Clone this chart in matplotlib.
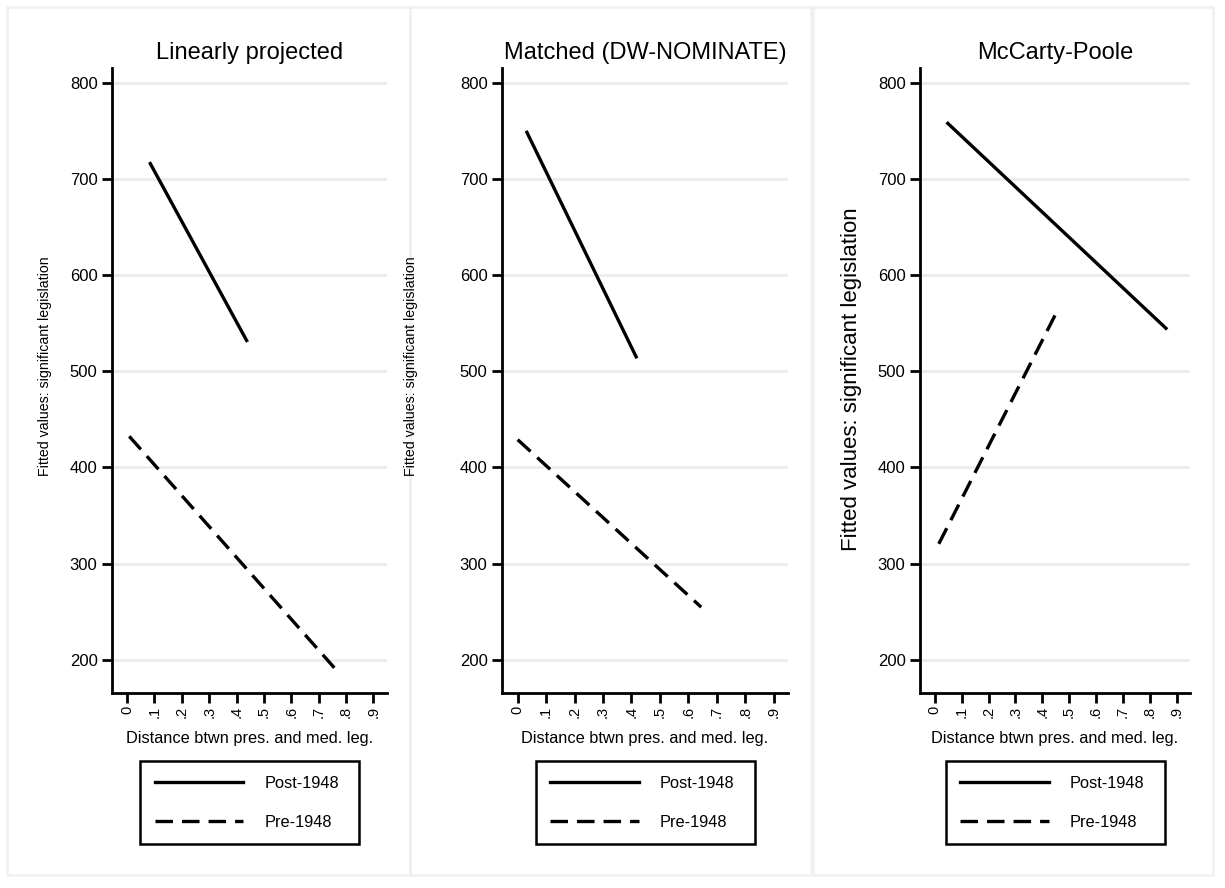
import matplotlib
matplotlib.use("Agg")
import matplotlib.pyplot as plt
from matplotlib.patches import Rectangle
from matplotlib.lines import Line2D
import numpy as np

plt.rcParams['font.family'] = ['Liberation Sans', 'DejaVu Sans']
plt.rcParams['lines.scale_dashes'] = False

# ---- data ----
titles = ["Linearly projected", "Matched (DW-NOMINATE)", "McCarty-Poole"]
post_x = [[0.082, 0.440], [0.030, 0.419], [0.044, 0.865]]
post_y = [[717.7, 530.5], [750.2, 513.5], [759.2, 543.6]]
pre_x = [[0.008, 0.770], [0.000, 0.645], [0.015, 0.458]]
pre_y = [[432.4, 187.5], [428.9, 254.6], [320.5, 564.0]]
xticks = [0, .1, .2, .3, .4, .5, .6, .7, .8, .9]
xticklabels = ["0", ".1", ".2", ".3", ".4", ".5", ".6", ".7", ".8", ".9"]
yticks = [200, 300, 400, 500, 600, 700, 800]
series_labels = ["Post-1948", "Pre-1948"]
xlabel = "Distance btwn pres. and med. leg."
ylabel = "Fitted values: significant legislation"

W, H = 1225, 888
fig = plt.figure(figsize=(W / 100, H / 100), dpi=100)
fig.patch.set_facecolor("white")

def fx(px):
    return px / W

def fy(py):
    return 1 - py / H

# panel frames
frames = [(7, 410), (410, 811), (813, 1213)]
for (l, r) in frames:
    fig.add_artist(Rectangle((fx(l), fy(875)), fx(r - l), (875 - 7) / H,
                             transform=fig.transFigure, fill=False,
                             edgecolor="#f0f0f0", linewidth=1.8, zorder=0))

axes_px = [(112, 387), (502, 788), (920, 1190)]
ylabel_pos = [(45, 366, 10.2), (411, 366, 10.2), (851, 379, 16)]
dash = (0, (12.6, 6.5))

for i in range(3):
    l, r = axes_px[i]
    ax = fig.add_axes([fx(l), fy(693), fx(r - l), (693 - 68) / H])
    ax.set_xlim(-0.055, 0.95)
    ax.set_ylim(165.3, 815.6)
    for s in ["top", "right"]:
        ax.spines[s].set_visible(False)
    for s in ["left", "bottom"]:
        ax.spines[s].set_linewidth(2.0)
        ax.spines[s].set_color("black")
    ax.set_yticks(yticks)
    ax.set_yticklabels([str(v) for v in yticks], fontsize=12)
    ax.set_xticks(xticks)
    ax.set_xticklabels(xticklabels, rotation=90, fontsize=10.5)
    ax.tick_params(axis="both", length=7, width=2.0, color="black")
    ax.tick_params(axis="y", pad=3.4)
    ax.tick_params(axis="x", pad=2)
    ax.yaxis.grid(True, color="#ebebeb", linewidth=1.9)
    ax.set_axisbelow(True)
    ax.plot(post_x[i], post_y[i], color="black", linewidth=2.4,
            solid_capstyle="butt")
    ax.plot(pre_x[i], pre_y[i], color="black", linewidth=2.4,
            linestyle=dash, dash_capstyle="butt")
    ax.set_title(titles[i], fontsize=17, pad=6.5)
    cx = (l + r) / 2
    fig.text(fx(cx), fy(738), xlabel, ha="center", va="center", fontsize=11.8)
    yx, yy, yfs = ylabel_pos[i]
    fig.text(fx(yx), fy(yy), ylabel, rotation=90, ha="center", va="center",
             fontsize=yfs)
    handles = [Line2D([], [], color="black", linewidth=2.4),
               Line2D([], [], color="black", linewidth=2.4, linestyle=dash)]
    leg_w = 219
    leg = ax.legend(handles, series_labels, loc="upper left",
                    bbox_to_anchor=(fx(cx - leg_w / 2), fy(761), fx(leg_w), 0),
                    bbox_transform=fig.transFigure, mode="expand",
                    fontsize=11.8, frameon=True, fancybox=False,
                    handlelength=5.4, handletextpad=1.3, borderpad=0.9,
                    labelspacing=1.45, borderaxespad=0)
    fr = leg.get_frame()
    fr.set_edgecolor("black")
    fr.set_linewidth(1.8)
    fr.set_alpha(1)

fig.savefig("out.png", dpi=100, facecolor="white")
